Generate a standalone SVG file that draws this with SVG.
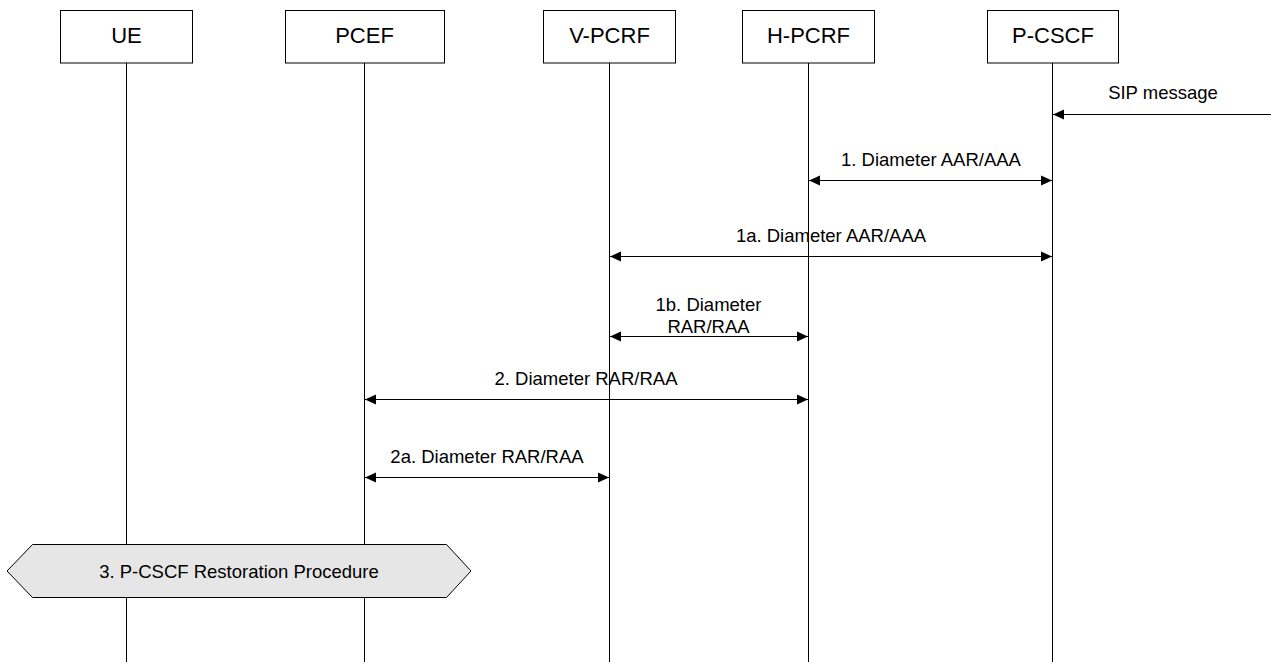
<svg xmlns="http://www.w3.org/2000/svg" width="1271" height="662" viewBox="0 0 1271 662">
<style>
.box{fill:#fff;stroke:#000;stroke-width:1}
.life{stroke:#000;stroke-width:1;fill:none}
.msg{stroke:#000;stroke-width:1;fill:none;marker-end:url(#ah);}
.dbl{marker-start:url(#ah)}
.nl{font-family:"Liberation Sans",Arial,sans-serif;font-size:22px;text-anchor:middle;fill:#000}
.ml{font-family:"Liberation Sans",Arial,sans-serif;font-size:18.5px;text-anchor:middle;fill:#000}
.proc{fill:#e6e6e6;stroke:#000;stroke-width:1}
</style>
<defs>
<marker id="ah" markerWidth="12" markerHeight="11" refX="11" refY="5.5" orient="auto-start-reverse" markerUnits="userSpaceOnUse">
<path d="M0,0.5 L11,5.5 L0,10.5 Z" fill="#000"/>
</marker>
</defs>
<rect width="1271" height="662" fill="#fff"/>
<g id="lifelines">
<line class="life" x1="126.5" y1="63" x2="126.5" y2="662"/>
<line class="life" x1="364.5" y1="63" x2="364.5" y2="662"/>
<line class="life" x1="609.5" y1="63" x2="609.5" y2="662"/>
<line class="life" x1="808.5" y1="63" x2="808.5" y2="662"/>
<line class="life" x1="1052.5" y1="63" x2="1052.5" y2="662"/>
</g>
<g id="UE"><rect class="box" x="60.5" y="10.5" width="132" height="52.5"/><text class="nl" x="126.5" y="43">UE</text></g>
<g id="PCEF"><rect class="box" x="285.5" y="10.5" width="159" height="52.5"/><text class="nl" x="364.5" y="43">PCEF</text></g>
<g id="V-PCRF"><rect class="box" x="543.5" y="10.5" width="132" height="52.5"/><text class="nl" x="609.5" y="43">V-PCRF</text></g>
<g id="H-PCRF"><rect class="box" x="742.5" y="10.5" width="132" height="52.5"/><text class="nl" x="808.5" y="43">H-PCRF</text></g>
<g id="P-CSCF"><rect class="box" x="987.5" y="10.5" width="131" height="52.5"/><text class="nl" x="1053" y="43">P-CSCF</text></g>
<g id="connectors">
<line class="msg" x1="1271" y1="114.5" x2="1053" y2="114.5"/>
<text class="ml" x="1163" y="99">SIP message</text>
<line class="msg dbl" x1="809" y1="180.5" x2="1052" y2="180.5"/>
<text class="ml" x="931" y="166">1. Diameter AAR/AAA</text>
<line class="msg dbl" x1="610" y1="256.5" x2="1052" y2="256.5"/>
<text class="ml" x="831" y="241.5">1a. Diameter AAR/AAA</text>
<line class="msg dbl" x1="610" y1="336.5" x2="808" y2="336.5"/>
<text class="ml" x="708.5" y="311">1b. Diameter</text>
<text class="ml" x="708.5" y="332.5">RAR/RAA</text>
<line class="msg dbl" x1="365" y1="399.5" x2="808" y2="399.5"/>
<text class="ml" x="586" y="384.5">2. Diameter RAR/RAA</text>
<line class="msg dbl" x1="365" y1="477.5" x2="609" y2="477.5"/>
<text class="ml" x="487" y="462.5">2a. Diameter RAR/RAA</text>
</g>
<g id="procedure">
<polygon class="proc" points="7,571 32.5,544.5 446.5,544.5 471,571 446.5,597.5 32.5,597.5"/>
<text class="ml" x="239" y="577.5">3. P-CSCF Restoration Procedure</text>
</g>
</svg>
